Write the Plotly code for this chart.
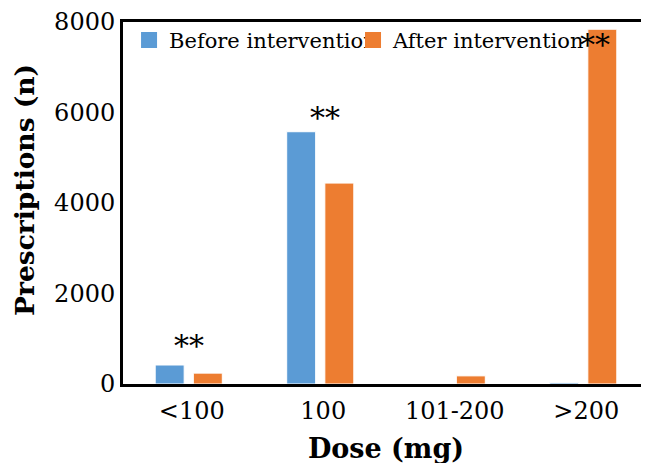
import plotly.graph_objects as go

categories = ["<100", "100", "101-200", ">200"]
before_values = [420, 5575, 0, 30]
after_values = [240, 4440, 180, 7840]
y_ticks = [0, 2000, 4000, 6000, 8000]
sig_categories = ["<100", "100", ">200"]
sig_y = [840, 5880, 7500]
sig_xshift = [0, 5, 12]
sig_text = "**"

FONT = "DejaVu Serif"
BLUE = "#5B9BD5"
ORANGE = "#ED7D31"

fig = go.Figure()
fig.add_trace(go.Bar(x=categories, y=before_values, name="Before intervention", showlegend=False,
                     marker=dict(color=BLUE, line=dict(color="white", width=1))))
fig.add_trace(go.Bar(x=categories, y=after_values, name="After intervention", showlegend=False,
                     marker=dict(color=ORANGE, line=dict(color="white", width=1))))
# legend entries with larger square symbols
fig.add_trace(go.Scatter(x=[None], y=[None], mode="markers", name="Before intervention",
                         marker=dict(symbol="square", size=21, color=BLUE), legend="legend"))
fig.add_trace(go.Scatter(x=[None], y=[None], mode="markers", name="After intervention",
                         marker=dict(symbol="square", size=21, color=ORANGE), legend="legend2"))

for c, y, xs in zip(sig_categories, sig_y, sig_xshift):
    fig.add_annotation(x=categories.index(c), y=y, text=sig_text, showarrow=False, xshift=xs,
                       yanchor="middle", font=dict(family=FONT, size=30, color="black"))

# y-axis title (placed as rotated text, slightly above the plot centre as in the original)
fig.add_annotation(xref="paper", yref="paper", x=-0.1863, y=0.536, text="<b>Prescriptions (n)</b>",
                   textangle=-90, showarrow=False, xanchor="center", yanchor="middle",
                   font=dict(family=FONT, size=26.5, color="black"))

legend_common = dict(orientation="h", y=1.006, xanchor="left", yanchor="top",
                     bgcolor="rgba(0,0,0,0)", font=dict(family=FONT, size=21, color="black"),
                     itemclick=False, itemdoubleclick=False)

fig.update_layout(
    width=641, height=463,
    margin=dict(l=115, r=0, t=14, b=87, autoexpand=False),
    paper_bgcolor="white", plot_bgcolor="white",
    font=dict(family=FONT, color="black"),
    barmode="group", bargap=0.42, bargroupgap=0.24,
    legend=dict(x=0.0115, **legend_common),
    legend2=dict(x=0.4373, **legend_common),
    xaxis=dict(showline=True, linecolor="black", linewidth=3, mirror=True, automargin=False,
               showgrid=False, zeroline=False, ticks="", tickfont=dict(family=FONT, size=24, color="black"),
               ticklabelshift=3, ticklabelstandoff=3,
               title=dict(text="<b>Dose (mg)</b>", font=dict(family=FONT, size=27, color="black"), standoff=16),
               range=[-0.5, 3.5]),
    yaxis=dict(showline=True, linecolor="black", linewidth=3, mirror=False, automargin=False,
               showgrid=False, zeroline=False, ticks="", range=[0, 8000],
               tickvals=y_ticks, tickfont=dict(family=FONT, size=24, color="black")),
)

fig.write_html("out.html")
